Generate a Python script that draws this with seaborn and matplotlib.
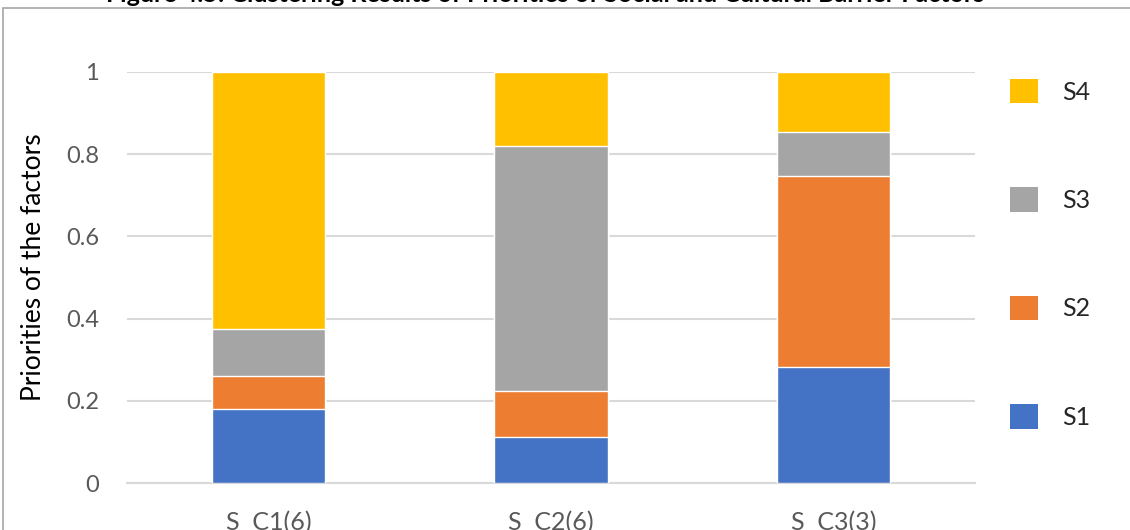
import matplotlib
matplotlib.use("Agg")
import matplotlib.pyplot as plt
from matplotlib.patches import Rectangle
import seaborn as sns
import pandas as pd

# Cluster priorities of the four social/cultural barrier factors
clusters = ["S  C1(6)", "S  C2(6)", "S  C3(3)"]
s1 = [0.180, 0.111, 0.283]
s2 = [0.081, 0.112, 0.465]
s3 = [0.113, 0.597, 0.106]
s4 = [0.626, 0.180, 0.146]
series_names = ["S1", "S2", "S3", "S4"]
colors = ["#4472C4", "#ED7D31", "#A5A5A5", "#FFC000"]
yticks = [0, 0.2, 0.4, 0.6, 0.8, 1]
ytick_labels = ["0", "0.2", "0.4", "0.6", "0.8", "1"]

sns.set_theme(style="white")
plt.rcParams["font.family"] = ["Lato", "DejaVu Sans"]

df = pd.DataFrame({"cluster": clusters, "S1": s1, "S2": s2, "S3": s3, "S4": s4})
cum = df[series_names].cumsum(axis=1)

fig = plt.figure(figsize=(11.3, 5.3), dpi=100)
ax = fig.add_axes([127 / 1130, 1 - 483 / 530, (975 - 127) / 1130, (483 - 72) / 530])

# Stack by overdrawing cumulative totals from the top series down
for name, col in zip(reversed(series_names), reversed(colors)):
    sns.barplot(x=df["cluster"], y=cum[name], color=col, width=0.4,
                saturation=1, ax=ax, zorder=3)

ax.set_xlim(-0.5, 2.5)
ax.set_ylim(0, 1)
ax.set_yticks(yticks)
ax.set_yticklabels(ytick_labels)
ax.yaxis.grid(True, color="#D9D9D9", linewidth=1.5, zorder=0)
ax.xaxis.grid(False)
for s in ax.spines.values():
    s.set_visible(False)
ax.spines["bottom"].set_visible(True)
ax.spines["bottom"].set_color("#D9D9D9")
ax.spines["bottom"].set_linewidth(1.5)
ax.tick_params(axis="y", length=0, pad=20, labelsize=17, labelcolor="#595959")
ax.tick_params(axis="x", length=0, pad=20, labelsize=18, labelcolor="#595959")
ax.set_xlabel("")
ax.set_ylabel("Priorities of the factors", fontsize=19, color="black")
ax.yaxis.set_label_coords(-0.095, 0.525)

# Legend entries on the right, S4 at the top
fs = 18
handles = [Rectangle((0, 0), 1, 1, facecolor=c, edgecolor="none") for c in colors]
leg = fig.legend(handles[::-1], series_names[::-1], loc="upper left",
                 bbox_to_anchor=(1010 / 1130, 1 - 79 / 530), frameon=False,
                 fontsize=fs, labelspacing=3.35, handlelength=1.12, handleheight=1.12,
                 handletextpad=0.95, borderpad=0, borderaxespad=0)

# Chart border and figure caption
fig.patches.append(Rectangle((3 / 1130, -0.1), 1.2, 1 - 8 / 530 + 0.1,
                             transform=fig.transFigure, fill=False,
                             edgecolor="#A6A6A6", linewidth=1.2))
fig.text(0.482, 1 - 2 / 530, "Figure 4.5: Clustering Results of Priorities of Social and Cultural Barrier Factors",
         ha="center", va="baseline", fontsize=18, fontweight="bold", color="black")

fig.savefig("out.png", dpi=100)
